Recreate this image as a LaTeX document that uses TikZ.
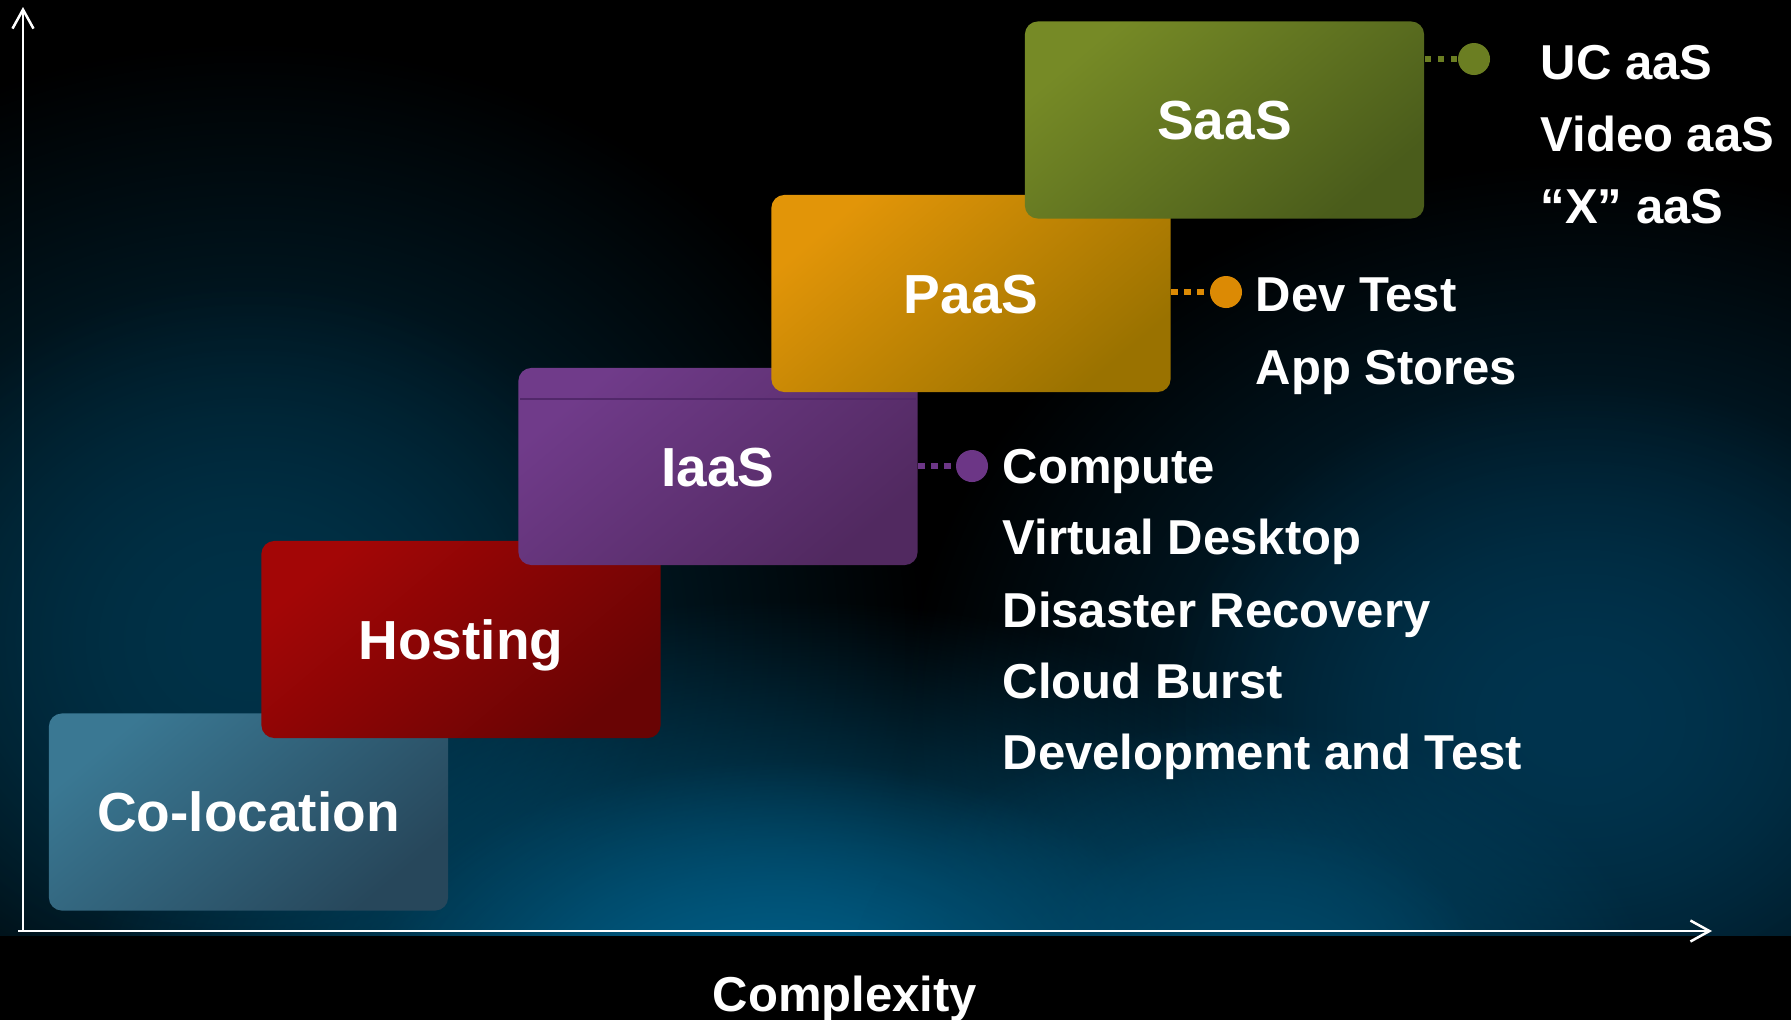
\documentclass[tikz,border=0pt]{standalone}
\usepackage{fontspec}
\setmainfont{Liberation Sans}
\usetikzlibrary{fadings,arrows.meta}
\tikzfading[name=glowfade, inner color=transparent!0, outer color=transparent!100]
\definecolor{colocA}{HTML}{3A7893}
\definecolor{colocB}{HTML}{27475B}
\definecolor{hostA}{HTML}{A30606}
\definecolor{hostB}{HTML}{690404}
\definecolor{iaasA}{HTML}{703B8A}
\definecolor{iaasB}{HTML}{512960}
\definecolor{iaasLine}{HTML}{52286A}
\definecolor{paasA}{HTML}{E29508}
\definecolor{paasB}{HTML}{9A7200}
\definecolor{saasA}{HTML}{768A26}
\definecolor{saasB}{HTML}{4A5C1B}
\definecolor{idotc}{HTML}{6C3686}
\definecolor{pdotc}{HTML}{DC8A04}
\definecolor{sdotc}{HTML}{6B7E22}
\definecolor{glowA}{HTML}{003248}
\definecolor{glowB}{HTML}{005C84}
\definecolor{glowC}{HTML}{00344E}
\definecolor{glowD}{HTML}{004868}
\begin{document}
\begin{tikzpicture}[x=0.01cm,y=-0.01cm,
  box/.style={rounded corners=0.13cm, minimum width=3.99cm, minimum height=1.97cm,
    inner sep=0pt, text=white, font=\fontsize{15.65pt}{18pt}\selectfont\bfseries,
    text height=0.39cm, text depth=0pt},
  item/.style={anchor=base west, inner sep=0pt, text=white,
    font=\fontsize{13.94pt}{17pt}\selectfont\bfseries},
  dotnode/.style={circle, minimum size=0.32cm, inner sep=0pt},
  link/.style={line width=0.06cm, dash pattern=on 0.065cm off 0.065cm},
  axisline/.style={draw=white, line width=0.025cm,
    -{Straight Barb[length=0.19cm,width=0.21cm]}},
  glow/.style={path fading=glowfade}
]
\useasboundingbox (0,0) rectangle (1791,1020);
% background
\fill[black] (0,0) rectangle (1791,1020);
\begin{scope}
  \clip (0,0) rectangle (1791,935);
  % left glow
  \fill[glowA, glow] (250,640) ellipse [x radius=6.8cm, y radius=6cm];
  \fill[glowA, glow] (250,640) ellipse [x radius=4.2cm, y radius=3.6cm];
  % right glow
  \fill[glowC, glow] (1580,720) ellipse [x radius=6.8cm, y radius=5.6cm];
  \fill[glowC, glow] (1580,720) ellipse [x radius=4.2cm, y radius=3.4cm];
  % bottom centre glow
  \fill[glowB, glow] (780,1000) ellipse [x radius=7cm, y radius=4cm];
  \fill[glowB, glow] (780,1000) ellipse [x radius=4.2cm, y radius=2.4cm];
  % bottom right glow
  \fill[glowD, glow] (1250,980) ellipse [x radius=4cm, y radius=2.6cm];
  \fill[glowD, glow] (1250,980) ellipse [x radius=2.4cm, y radius=1.6cm];
\end{scope}
% axes
\coordinate (origin) at (23,931);
\coordinate (ytip) at (23,7);
\coordinate (xstart) at (18,931);
\coordinate (xtip) at (1712,931);
\draw[axisline] (origin) -- (ytip);
\draw[axisline] (xstart) -- (xtip);
% boxes
\node[box, top color=colocA, bottom color=colocB, shading angle=40] (coloc) at (248.5,812) {Co-location};
\node[box, top color=hostA, bottom color=hostB, shading angle=40] (host) at (461,639.5) {Hosting};
\node[box, top color=iaasA, bottom color=iaasB, shading angle=40] (iaas) at (718,466.5) {IaaS};
\draw[iaasLine, line width=0.012cm] (520,399) -- (916,399);
\node[box, top color=paasA, bottom color=paasB, shading angle=40] (paas) at (971,293.5) {PaaS};
\node[box, top color=saasA, bottom color=saasB, shading angle=40] (saas) at (1224.5,120) {SaaS};
% dots and links
\node[dotnode, fill=idotc] (idot) at (972,466) {};
\node[dotnode, fill=pdotc] (pdot) at (1226,292) {};
\node[dotnode, fill=sdotc] (sdot) at (1474,59) {};
\draw[link, draw=idotc] (iaas.east |- idot.west) -- (idot.west);
\draw[link, draw=pdotc] (paas.east |- pdot.west) -- (pdot.west);
\draw[link, draw=sdotc] (saas.east |- sdot.west) -- (sdot.west);
% lists
\node[item] (i1) at (1002,483) {Compute};
\node[item] (i2) at (1002,554) {Virtual Desktop};
\node[item] (i3) at (1002,627) {Disaster Recovery};
\node[item] (i4) at (1002,698) {Cloud Burst};
\node[item] (i5) at (1002,769) {Development and Test};
\node[item] (p1) at (1255,311) {Dev Test};
\node[item] (p2) at (1255,384) {App Stores};
\node[item] (s1) at (1540,79) {UC aaS};
\node[item] (s2) at (1540,151) {Video aaS};
\node[item] (s3) at (1540,223) {“X” aaS};
% axis label
\node[anchor=base, inner sep=0pt, text=white, font=\fontsize{13.94pt}{17pt}\selectfont\bfseries] (xlabel) at (845,1011) {Complexity};
\end{tikzpicture}
\end{document}
